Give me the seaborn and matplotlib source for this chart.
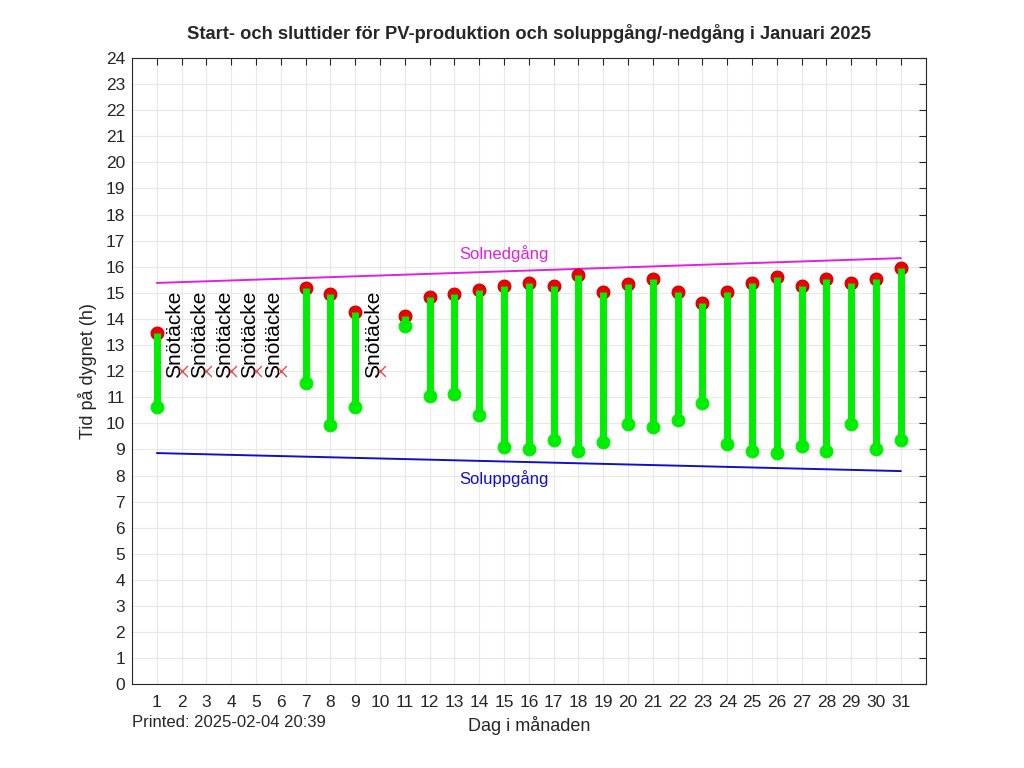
import numpy as np
import pandas as pd
import seaborn as sns
import matplotlib.pyplot as plt

# Dagar med produktion (start/slut i timmar)
days = [1, 7, 8, 9, 11, 12, 13, 14, 15, 16, 17, 18, 19, 20, 21, 22, 23,
        24, 25, 26, 27, 28, 29, 30, 31]
start_h = [10.62, 11.54, 9.93, 10.62, 13.73, 11.04, 11.12, 10.31, 9.09, 9.01,
           9.36, 8.93, 9.28, 9.97, 9.85, 10.12, 10.77, 9.20, 8.93, 8.86, 9.13,
           8.93, 9.97, 9.01, 9.36]
end_h = [13.46, 15.18, 14.95, 14.26, 14.11, 14.84, 14.95, 15.10, 15.26, 15.38,
         15.26, 15.68, 15.03, 15.34, 15.53, 15.03, 14.61, 15.03, 15.38, 15.61,
         15.26, 15.53, 15.38, 15.53, 15.95]

# Dagar med snötäcke
snow_days = [2, 3, 4, 5, 6, 10]
snow_level = 12

# Sol upp/ned (första och sista dagen)
sun_days = [1, 31]
sunrise = [8.86, 8.17]
sunset = [15.38, 16.33]

df = pd.DataFrame({'dag': days, 'start': start_h, 'slut': end_h})
sun = pd.DataFrame({'dag': sun_days, 'upp': sunrise, 'ned': sunset})
snow = pd.DataFrame({'dag': snow_days, 'y': [snow_level] * len(snow_days)})

sns.set_style("white")
plt.rcParams['font.family'] = ['Liberation Sans', 'DejaVu Sans']

fig = plt.figure(figsize=(10.24, 7.68), dpi=100)
ax = fig.add_axes([0.129, 0.109, 0.775, 0.8155])

# grid at every integer
ax.set_xticks(np.arange(0, 33), minor=True)
ax.grid(True, which='both', color='#e8e8e8', linewidth=0.8)
ax.set_axisbelow(True)

sns.lineplot(data=sun, x='dag', y='ned', color='#e020e0', linewidth=1.4, ax=ax)
sns.lineplot(data=sun, x='dag', y='upp', color='#1010c8', linewidth=1.4, ax=ax)

# red end markers, green bars on top, green start markers
sns.scatterplot(data=df, x='dag', y='slut', color='#ee0000', edgecolor='#cc0000',
                s=85, linewidth=0.8, zorder=3, ax=ax)
ax.vlines(df['dag'], df['start'], df['slut'], color='#00ee00', linewidth=5,
          zorder=4)
sns.scatterplot(data=df, x='dag', y='start', color='#00ee00', edgecolor='#00ee00',
                s=85, zorder=5, ax=ax)

sns.scatterplot(data=snow, x='dag', y='y', marker='x', color='#e05050',
                s=60, linewidth=1.0, zorder=5, ax=ax)
for d in snow_days:
    ax.text(d + 0.1, snow_level - 0.25, 'Snötäcke', rotation=90, ha='right',
            va='bottom', fontsize=15, color='black', zorder=6)

ax.text(15, 16.5, 'Solnedgång', color='#e020e0', ha='center', va='center',
        fontsize=12)
ax.text(15, 7.9, 'Soluppgång', color='#1010c8', ha='center', va='center',
        fontsize=12)

ax.set_xlim(0, 32)
ax.set_ylim(0, 24)
ax.set_xticks(range(1, 32))
ax.set_yticks(range(0, 25))
ax.tick_params(axis='both', which='major', direction='in', length=5,
               top=True, right=True, labelsize=12.5, colors='#262626')
ax.tick_params(axis='y', which='major', pad=5)
ax.tick_params(axis='x', which='major', pad=8)
ax.tick_params(axis='both', which='minor', length=0)
for sp in ax.spines.values():
    sp.set_color('#262626')
    sp.set_linewidth(0.8)

ax.set_title('Start- och sluttider för PV-produktion och soluppgång/-nedgång i Januari 2025',
             fontsize=13.2, fontweight='bold', pad=14)
ax.set_xlabel('Dag i månaden', fontsize=13, labelpad=4)
ax.set_ylabel('Tid på dygnet (h)', fontsize=13, labelpad=6)
fig.text(0.129, 0.059, 'Printed: 2025-02-04 20:39', fontsize=12, ha='left',
         va='center')

fig.savefig('out.png', dpi=100)
